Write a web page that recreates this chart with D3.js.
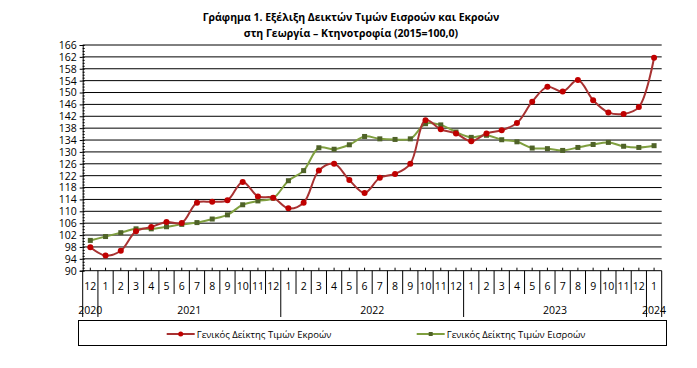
<!DOCTYPE html>
<html>
<head>
<meta charset="utf-8">
<script src="https://cdn.jsdelivr.net/npm/d3@7"></script>
<style>
  html, body { margin: 0; padding: 0; background: #fff; }
  svg { display: block; font-family: "Open Sans", "Noto Sans", sans-serif; }
</style>
</head>
<body>
<svg id="chart" width="697" height="368"></svg>
<script>
// ---- Data ----
const monthLabels = ["12",
  "1","2","3","4","5","6","7","8","9","10","11","12",
  "1","2","3","4","5","6","7","8","9","10","11","12",
  "1","2","3","4","5","6","7","8","9","10","11","12",
  "1"];
const yearLabels = ["2020", "2021", "2022", "2023", "2024"];
const yearMonthCounts = [1, 12, 12, 12, 1];
const outputIndex = [97.9,
  95.1, 96.7, 103.3, 104.7, 106.4, 106.1, 112.9, 113.2, 113.7, 119.9, 115.0, 114.6,
  111.0, 112.9, 123.7, 126.0, 120.5, 116.2, 121.3, 122.6, 126.0, 140.7, 137.6, 136.2,
  133.6, 136.2, 137.3, 139.7, 146.9, 151.9, 150.3, 154.2, 147.4, 143.3, 142.8, 145.1,
  161.7];
const inputIndex = [100.2,
  101.5, 102.8, 104.1, 104.1, 104.8, 105.6, 106.2, 107.4, 108.8, 112.2, 113.5, 114.4,
  120.3, 123.7, 131.4, 130.9, 132.4, 135.2, 134.4, 134.2, 134.4, 139.5, 139.1, 136.7,
  134.9, 135.6, 134.1, 133.4, 131.3, 131.1, 130.5, 131.5, 132.5, 133.2, 131.9, 131.5,
  132.1];
const yTicks = d3.range(90, 167, 4);
const seriesNames = ["Γενικός Δείκτης Τιμών Εκροών", "Γενικός Δείκτης Τιμών Εισροών"];
const titleLines = ["Γράφημα 1. Εξέλιξη Δεικτών Τιμών Εισροών και Εκροών",
                    "στη Γεωργία – Κτηνοτροφία (2015=100,0)"];

// ---- Layout ----
const L = 82.7, R = 661.7, T = 45, B = 270.7;
const svg = d3.select("#chart");
const idx = d3.range(monthLabels.length);
const x = d3.scaleBand().domain(idx).range([L, R]).padding(0);
const y = d3.scaleLinear().domain([90, 166]).range([B, T]);
const cx = i => x(i) + x.bandwidth() / 2;

// Title
svg.append("g").selectAll("text").data(titleLines).join("text")
  .attr("x", 351).attr("y", (d, i) => 21 + i * 16)
  .attr("text-anchor", "middle")
  .attr("font-size", "10.5px").attr("font-weight", "bold").attr("fill", "#000")
  .text(d => d);

// Gridlines
svg.append("g").selectAll("line").data(yTicks.filter(v => v > 90)).join("line")
  .attr("x1", L).attr("x2", R)
  .attr("y1", d => y(d)).attr("y2", d => y(d))
  .attr("stroke", "#000").attr("stroke-width", 1);

// Y axis (major, outside)
const yAxis = svg.append("g").attr("transform", `translate(${L},0)`)
  .call(d3.axisLeft(y).tickValues(yTicks).tickSize(3).tickPadding(3).tickFormat(d3.format("d")));
yAxis.select(".domain").attr("stroke", "#000");
yAxis.selectAll("text").attr("font-size", "10.5px").attr("fill", "#000")
  .attr("font-family", "'Open Sans', 'Noto Sans', sans-serif");
// minor ticks inside
svg.append("g").attr("transform", `translate(${L},0)`)
  .call(d3.axisRight(y).tickValues(d3.range(90, 167, 1)).tickSize(2).tickFormat(""))
  .select(".domain").remove();

// X axis line
svg.append("line").attr("x1", L).attr("x2", R).attr("y1", B).attr("y2", B)
  .attr("stroke", "#000");
// up ticks at category centers
svg.append("g").selectAll("line").data(idx).join("line")
  .attr("x1", d => cx(d)).attr("x2", d => cx(d))
  .attr("y1", B).attr("y2", B - 3).attr("stroke", "#000");
// month dividers
const yearStarts = [];
let acc = 0;
yearMonthCounts.forEach(n => { yearStarts.push(acc); acc += n; });
const boundaries = d3.range(monthLabels.length + 1);
svg.append("g").selectAll("line").data(boundaries).join("line")
  .attr("x1", d => d < monthLabels.length ? x(d) : R)
  .attr("x2", d => d < monthLabels.length ? x(d) : R)
  .attr("y1", B)
  .attr("y2", d => (yearStarts.includes(d) || d === monthLabels.length) ? 317 : 294)
  .attr("stroke", "#000").attr("stroke-width", 1);
// month labels
svg.append("g").selectAll("text").data(monthLabels).join("text")
  .attr("x", (d, i) => cx(i)).attr("y", 290)
  .attr("text-anchor", "middle").attr("font-size", "10.5px").attr("fill", "#000")
  .text(d => d);
// year labels
svg.append("g").selectAll("text").data(yearLabels).join("text")
  .attr("x", (d, i) => {
    const s = yearStarts[i], e = s + yearMonthCounts[i];
    return (x(s) + (e < monthLabels.length ? x(e) : R)) / 2;
  })
  .attr("y", 314)
  .attr("text-anchor", "middle").attr("font-size", "10.5px").attr("fill", "#000")
  .text(d => d);

// Lines
const line = d3.line().x((d, i) => cx(i)).y(d => y(d)).curve(d3.curveCatmullRom.alpha(0.5));
const redLine = "#A83232", redMark = "#C00000";
const greenLine = "#7F9F3F", greenMark = "#4F6228";

svg.append("path").datum(inputIndex).attr("d", line)
  .attr("fill", "none").attr("stroke", greenLine).attr("stroke-width", 2);
svg.append("g").selectAll("rect").data(inputIndex).join("rect")
  .attr("x", (d, i) => cx(i) - 2.5).attr("y", d => y(d) - 2.5)
  .attr("width", 5).attr("height", 5).attr("fill", greenMark);

svg.append("path").datum(outputIndex).attr("d", line)
  .attr("fill", "none").attr("stroke", redLine).attr("stroke-width", 2);
svg.append("g").selectAll("circle").data(outputIndex).join("circle")
  .attr("cx", (d, i) => cx(i)).attr("cy", d => y(d)).attr("r", 3)
  .attr("fill", redMark);

// Legend
const lg = svg.append("g");
lg.append("rect").attr("x", 78.5).attr("y", 320.5).attr("width", 588).attr("height", 25)
  .attr("fill", "none").attr("stroke", "#000").attr("stroke-width", 1);
const legendItems = [
  {name: seriesNames[0], x0: 166.7, color: redLine, mark: redMark, shape: "circle"},
  {name: seriesNames[1], x0: 416.7, color: greenLine, mark: greenMark, shape: "square"}
];
const ly = 334;
legendItems.forEach(it => {
  lg.append("line").attr("x1", it.x0).attr("x2", it.x0 + 28).attr("y1", ly).attr("y2", ly)
    .attr("stroke", it.color).attr("stroke-width", 2);
  if (it.shape === "circle") {
    lg.append("circle").attr("cx", it.x0 + 14).attr("cy", ly).attr("r", 2.5).attr("fill", it.mark);
  } else {
    lg.append("rect").attr("x", it.x0 + 12).attr("y", ly - 2).attr("width", 4).attr("height", 4).attr("fill", it.mark);
  }
  lg.append("text").attr("x", it.x0 + 30).attr("y", ly + 3.5)
    .attr("font-size", "9.5px").attr("fill", "#000").text(it.name);
});
</script>
</body>
</html>
